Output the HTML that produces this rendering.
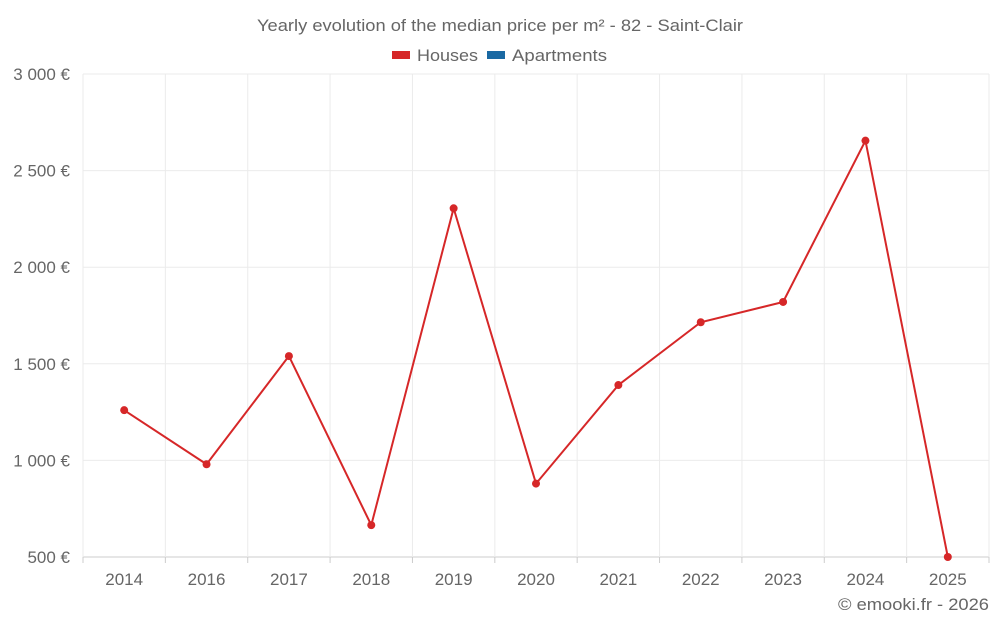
<!DOCTYPE html>
<html><head><meta charset="utf-8"><style>
body{margin:0;background:#fff;font-family:"Liberation Sans",sans-serif;}
svg text{font-family:"Liberation Sans",sans-serif;fill:#666;}
</style></head><body>
<svg id="chart" width="1000" height="625" viewBox="0 0 1000 625" xmlns="http://www.w3.org/2000/svg">
<text x="257" y="31" font-size="16.5" textLength="486" lengthAdjust="spacingAndGlyphs">Yearly evolution of the median price per m² - 82 - Saint-Clair</text>
<g>
<rect x="392" y="51" width="18" height="8" fill="#d62728"/>
<text x="417" y="61" font-size="17" textLength="61" lengthAdjust="spacingAndGlyphs">Houses</text>
<rect x="487" y="51" width="18" height="8" fill="#1a69a3"/>
<text x="512" y="61" font-size="17" textLength="95" lengthAdjust="spacingAndGlyphs">Apartments</text>
</g>
<g id="grid"></g><g id="axes"></g><g id="series"></g>
<text x="838" y="610" font-size="17" textLength="151" lengthAdjust="spacingAndGlyphs">© emooki.fr - 2026</text>
</svg>
<script>
const categories=["2014","2016","2017","2018","2019","2020","2021","2022","2023","2024","2025"];
const housesValues=[1260,980,1540,665,2305,880,1390,1715,1820,2655,500];
const yTicks=[500,1000,1500,2000,2500,3000];
const yTickLabels=["500 €","1 000 €","1 500 €","2 000 €","2 500 €","3 000 €"];
const NS="http://www.w3.org/2000/svg";
const L=83,R=989,T=74,B=557,yMin=500,yMax=3000;
const band=(R-L)/categories.length;
function x(i){return L+band*(i+0.5);}
function y(v){return B-(v-yMin)/(yMax-yMin)*(B-T);}
function mk(t,a,p){const e=document.createElementNS(NS,t);for(const k in a)e.setAttribute(k,a[k]);p.appendChild(e);return e;}
const grid=document.getElementById('grid'),axes=document.getElementById('axes'),ser=document.getElementById('series');
yTicks.forEach((v,i)=>{
 const g=mk('line',{x1:L,x2:R,y1:y(v),y2:y(v),stroke:i==0?'#ccc':'#ebebeb','stroke-width':1},grid);
 
 
 const t=mk('text',{x:70,y:y(v)+6,'text-anchor':'end','font-size':17},axes);
 t.textContent=yTickLabels[i];
 
 
});
for(let i=0;i<=categories.length;i++){
 const gx=L+band*i;
 const g=mk('line',{x1:gx,x2:gx,y1:T,y2:B,stroke:'#ebebeb','stroke-width':1},grid);
 
 
 const tk=mk('line',{x1:gx,x2:gx,y1:B,y2:B+6,stroke:'#ccc'},grid);
 
 
}
categories.forEach((c,i)=>{
 const t=mk('text',{x:x(i),y:585,'text-anchor':'middle','font-size':17},axes);
 t.textContent=c;
 
 
});
const line=mk('polyline',{points:housesValues.map((v,i)=>x(i)+','+y(v)).join(' '),fill:'none',stroke:'#d62728','stroke-width':2},ser);


housesValues.forEach((v,i)=>{
 const p=mk('circle',{cx:x(i),cy:y(v),r:4,fill:'#d62728'},ser);
 
 
});
</script>
</body></html>
